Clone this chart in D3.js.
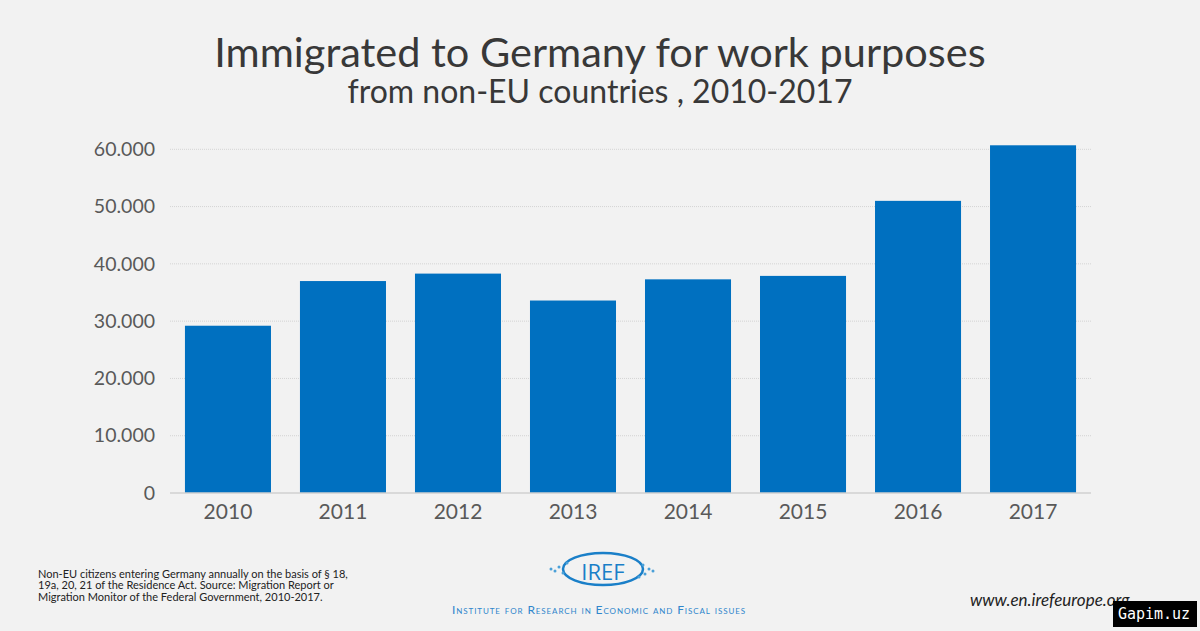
<!DOCTYPE html>
<html>
<head>
<meta charset="utf-8">
<script src="https://cdn.jsdelivr.net/npm/d3@7"></script>
<style>
  body { margin: 0; background: #f2f2f2; }
  svg { display: block; font-family: Lato, "Open Sans", sans-serif; }
</style>
</head>
<body>
<div id="chart"></div>
<script>
// Data
let years = ["2010", "2011", "2012", "2013", "2014", "2015", "2016", "2017"];
let immigrants = [29200, 37000, 38300, 33600, 37300, 37900, 51000, 60700];
let yTicks = [0, 10000, 20000, 30000, 40000, 50000, 60000];
let footnote = [
  "Non-EU citizens entering Germany annually on the basis of § 18,",
  "19a, 20, 21 of the Residence Act. Source: Migration Report or",
  "Migration Monitor of the Federal Government, 2010-2017."
];

let w = 1200;
let h = 631;
let plotLeft = 170, plotRight = 1091, plotTop = 149.3, plotBottom = 493;

let svg = d3.select("#chart").append("svg").attr("width", w).attr("height", h);
svg.append("rect").attr("width", w).attr("height", h).attr("fill", "#f2f2f2");

// Titles
svg.append("text").attr("x", 600).attr("y", 67).attr("text-anchor", "middle")
  .attr("font-size", "41.5px").attr("fill", "#383838").text("Immigrated to Germany for work purposes");
svg.append("text").attr("x", 600).attr("y", 103).attr("text-anchor", "middle")
  .attr("font-size", "32px").attr("fill", "#383838").text("from non-EU countries , 2010-2017");

// Scales
let xScale = d3.scaleBand().domain(years).range([plotLeft, plotRight])
  .paddingInner(0.252).paddingOuter(0.13);
let yScale = d3.scaleLinear().domain([0, 60000]).range([plotBottom, plotTop]);

// Gridlines
svg.append("g").selectAll("line").data(yTicks.filter(d => d > 0)).enter().append("line")
  .attr("x1", plotLeft).attr("x2", plotRight)
  .attr("y1", d => yScale(d)).attr("y2", d => yScale(d))
  .attr("stroke", "#d4d4d4").attr("stroke-width", 1).attr("stroke-dasharray", "1,1");

// Bars
svg.append("g").selectAll("rect").data(immigrants).enter().append("rect")
  .attr("x", (d, i) => xScale(years[i]))
  .attr("y", d => yScale(d))
  .attr("width", xScale.bandwidth())
  .attr("height", d => plotBottom - yScale(d))
  .attr("fill", "#0070c0");

// Baseline
svg.append("line").attr("x1", plotLeft).attr("x2", plotRight).attr("y1", plotBottom).attr("y2", plotBottom)
  .attr("stroke", "#d0d0d0").attr("stroke-width", 1.5);

// Y axis
let fmt = d => d === 0 ? "0" : d3.format(",")(d).replace(/,/g, ".");
let yAxis = d3.axisLeft(yScale).tickValues(yTicks).tickFormat(fmt).tickSize(0).tickPadding(15);
let gy = svg.append("g").attr("transform", `translate(${plotLeft},0)`).call(yAxis);
gy.select(".domain").remove();
gy.selectAll("text").attr("font-family", "Lato, 'Open Sans', sans-serif")
  .attr("font-size", "19.5px").attr("fill", "#595959");

// X axis
let xAxis = d3.axisBottom(xScale).tickSize(0).tickPadding(11);
let gx = svg.append("g").attr("transform", `translate(0,${plotBottom})`).call(xAxis);
gx.select(".domain").remove();
gx.selectAll("text").attr("font-family", "Lato, 'Open Sans', sans-serif")
  .attr("font-size", "21px").attr("fill", "#595959");

// Footnote
svg.append("g").selectAll("text").data(footnote).enter().append("text")
  .attr("x", 38).attr("y", (d, i) => 577.5 + i * 11.7)
  .attr("font-size", "11px").attr("fill", "#222").text(d => d);

// Logo
let logo = svg.append("g").attr("transform", "translate(603,569)");
logo.append("ellipse").attr("rx", 40).attr("ry", 16)
  .attr("fill", "none").attr("stroke", "#1a7fc8").attr("stroke-width", 2.5);
logo.append("text").attr("text-anchor", "middle").attr("y", 11).attr("font-size", "22px")
  .attr("fill", "#1a7fc8").attr("font-family", "'Open Sans', sans-serif").text("IREF");
let dots = [[-44, -2], [-48, 2], [-40, 4], [-52, 0], [-36, -6], [40, -4], [46, 0], [42, 5], [50, 2], [36, 8]];
logo.selectAll("circle").data(dots).enter().append("circle")
  .attr("cx", d => d[0]).attr("cy", d => d[1]).attr("r", 1.5).attr("fill", "#4aa0d8");
svg.append("text").attr("x", 599).attr("y", 614).attr("text-anchor", "middle")
  .attr("font-size", "12px").attr("fill", "#2f86cc").style("font-variant", "small-caps")
  .attr("letter-spacing", "0.9px")
  .text("Institute for Research in Economic and Fiscal issues");

// Website
svg.append("text").attr("x", 970).attr("y", 606).attr("font-size", "17px")
  .attr("font-style", "italic").attr("fill", "#222").text("www.en.irefeurope.org");

// Watermark
svg.append("rect").attr("x", 1113).attr("y", 601).attr("width", 84).attr("height", 26).attr("fill", "#000");
svg.append("text").attr("x", 1154).attr("y", 619).attr("text-anchor", "middle")
  .attr("font-family", "'DejaVu Sans Mono', monospace").attr("font-size", "15px")
  .attr("fill", "#fff").text("Gapim.uz");
</script>
</body>
</html>
